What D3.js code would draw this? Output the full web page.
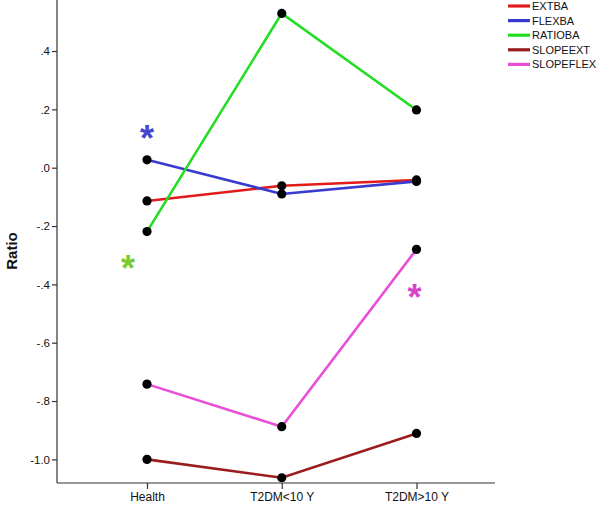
<!DOCTYPE html>
<html><head><meta charset="utf-8">
<script src="https://cdn.jsdelivr.net/npm/d3@7"></script>
<style>body{margin:0;background:#fff}svg{display:block}</style>
</head><body>
<script>
const categories = ["Health", "T2DM<10 Y", "T2DM>10 Y"];
const seriesNames = ["EXTBA", "FLEXBA", "RATIOBA", "SLOPEEXT", "SLOPEFLEX"];
const EXTBA = [-0.114, -0.062, -0.042];
const FLEXBA = [0.027, -0.090, -0.047];
const RATIOBA = [-0.219, 0.529, 0.198];
const SLOPEEXT = [-1.000, -1.063, -0.911];
const SLOPEFLEX = [-0.742, -0.888, -0.280];
const seriesColors = ["#e31a1a", "#3a3ad0", "#22dd22", "#9b1c1c", "#e84fd6"];
const yTicks = [0.4, 0.2, 0.0, -0.2, -0.4, -0.6, -0.8, -1.0];
const yTickLabels = [".4", ".2", ".0", "-.2", "-.4", "-.6", "-.8", "-1.0"];
// significance markers: category, value, horizontal offset(px), colour
const starCats = ["Health", "Health", "T2DM>10 Y"];
const starVals = [0.12, -0.326, -0.425];
const starColors = ["#4444cc", "#77cc33", "#d645c8"];
const starDx = [0, -19, -2];

const W = 600, H = 507;
const svg = d3.select("body").append("svg").attr("width", W).attr("height", H);
const seriesData = [EXTBA, FLEXBA, RATIOBA, SLOPEEXT, SLOPEFLEX];

const y = d3.scaleLinear().domain([-1.081, 0.575]).range([483, 0]);
const x = d3.scalePoint().domain(categories).range([147, 416.5]);
const axisLeftX = 57, axisRightX = 495;

const font = "'Liberation Sans', Arial, sans-serif";

// Y axis
const yAxis = d3.axisLeft(y).tickValues(yTicks)
  .tickFormat((d, i) => yTickLabels[i]).tickSize(5).tickSizeOuter(0);
const gy = svg.append("g").attr("transform", `translate(${axisLeftX},0)`).call(yAxis);
gy.select(".domain").attr("d", `M0,0V${y.range()[0]}`).attr("stroke", "#333").attr("stroke-width", 1.2);
gy.selectAll(".tick line").attr("stroke", "#333").attr("stroke-width", 1.2);
gy.selectAll(".tick text").attr("font-family", font).attr("font-size", 11.5).attr("fill", "#111").attr("x", -7);

// X axis
const xAxis = d3.axisBottom(x).tickSize(6).tickSizeOuter(0);
const gx = svg.append("g").attr("transform", `translate(0,${y.range()[0]})`).call(xAxis);
gx.select(".domain").attr("d", `M${axisLeftX},0H${axisRightX}`).attr("stroke", "#333").attr("stroke-width", 1.2);
gx.selectAll(".tick line").attr("stroke", "#333").attr("stroke-width", 1.2);
gx.selectAll(".tick text").attr("font-family", font).attr("font-size", 12).attr("fill", "#111").attr("y", 9);

// Y title
svg.append("text").attr("transform", "translate(17,251) rotate(-90)")
  .attr("text-anchor", "middle").attr("font-family", font).attr("font-weight", "bold")
  .attr("font-size", 15).attr("fill", "#111").text("Ratio");

// Lines
const line = d3.line().x((d, i) => x(categories[i])).y(d => y(d));
seriesData.forEach((vals, s) => {
  svg.append("path").datum(vals).attr("d", line).attr("fill", "none")
    .attr("stroke", seriesColors[s]).attr("stroke-width", 2.6);
});
seriesData.forEach((vals) => {
  svg.append("g").selectAll("circle").data(vals).join("circle")
    .attr("cx", (d, i) => x(categories[i])).attr("cy", d => y(d)).attr("r", 4.6).attr("fill", "#000");
});

// Stars
starVals.forEach((v, i) => {
  svg.append("text").attr("x", x(starCats[i]) + starDx[i]).attr("y", y(v) + 18)
    .attr("text-anchor", "middle").attr("font-family", font).attr("font-weight", "bold")
    .attr("font-size", 36).attr("fill", starColors[i]).text("*");
});

// Legend
const lg = svg.append("g");
seriesNames.forEach((n, i) => {
  const ly = 6 + i * 14.6;
  lg.append("line").attr("x1", 508).attr("x2", 530).attr("y1", ly).attr("y2", ly)
    .attr("stroke", seriesColors[i]).attr("stroke-width", 3.2);
  lg.append("text").attr("x", 532).attr("y", ly + 4).attr("font-family", font)
    .attr("font-size", 11).attr("fill", "#111").text(n);
});
</script>
</body></html>
